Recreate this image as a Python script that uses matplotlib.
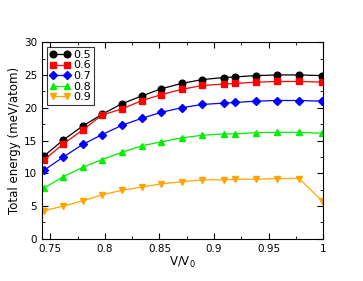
import matplotlib
matplotlib.use('Agg')
import matplotlib.pyplot as plt
from matplotlib.ticker import MultipleLocator

# volume ratio
vv0 = [0.7445, 0.762, 0.7796, 0.7974, 0.8154, 0.834, 0.8518, 0.8704,
       0.8894, 0.909, 0.9193, 0.9386, 0.958, 0.978, 0.999]

e05 = [12.7, 15.1, 17.2, 19.0, 20.6, 21.8, 22.9, 23.7, 24.3, 24.6, 24.7, 24.9, 25.0, 25.0, 24.9]
e06 = [12.1, 14.5, 16.6, 18.9, 19.8, 21.1, 22.0, 22.8, 23.4, 23.6, 23.7, 23.9, 24.0, 24.0, 23.9]
e07 = [10.5, 12.5, 14.4, 15.9, 17.3, 18.4, 19.3, 20.0, 20.5, 20.7, 20.8, 21.0, 21.1, 21.1, 21.0]
e08 = [7.8, 9.5, 10.9, 12.1, 13.2, 14.2, 14.8, 15.4, 15.8, 16.0, 16.0, 16.2, 16.25, 16.25, 16.1]
e09 = [4.3, 5.0, 5.8, 6.7, 7.4, 7.9, 8.4, 8.7, 9.0, 9.0, 9.1, 9.1, 9.2, 9.2, 5.8]

labels = ['0.5', '0.6', '0.7', '0.8', '0.9']
colors = ['black', 'red', 'blue', '#00ee00', 'orange']
markers = ['o', 's', 'D', '^', 'v']

fig = plt.figure(figsize=(3.63, 2.81), dpi=100)
ax = fig.add_axes([0.116, 0.150, 0.774, 0.700])

for e, lab, c, m in zip([e05, e06, e07, e08, e09], labels, colors, markers):
    ms = 3.8 if m == 'D' else 4.8
    ax.plot(vv0, e, color=c, marker=m, ms=ms, lw=0.9, label=lab)

ax.set_xlim(0.7424, 1.0)
ax.set_ylim(0, 30)
ax.xaxis.set_major_locator(MultipleLocator(0.05))
ax.xaxis.set_minor_locator(MultipleLocator(0.025))
ax.yaxis.set_major_locator(MultipleLocator(5))
ax.yaxis.set_minor_locator(MultipleLocator(2.5))
ax.set_xticks([0.75, 0.8, 0.85, 0.9, 0.95, 1.0])
ax.set_xticklabels(['0.75', '0.8', '0.85', '0.9', '0.95', '1'])
ax.tick_params(which='both', direction='in', top=True, right=True, labelsize=7.5)
ax.tick_params(which='major', length=4)
ax.tick_params(which='minor', length=2)

ax.set_xlabel('V/V$_0$', fontsize=8.5, labelpad=1)
ax.set_ylabel('Total energy (meV/atom)', fontsize=8.5, labelpad=2)

leg = ax.legend(loc='upper left', fontsize=8, frameon=True, fancybox=False,
                edgecolor='black', numpoints=2, handlelength=1.8,
                handletextpad=0.3, borderpad=0.3, labelspacing=0.05,
                borderaxespad=0.4)
leg.get_frame().set_linewidth(0.8)

fig.savefig('out.png', dpi=100)
